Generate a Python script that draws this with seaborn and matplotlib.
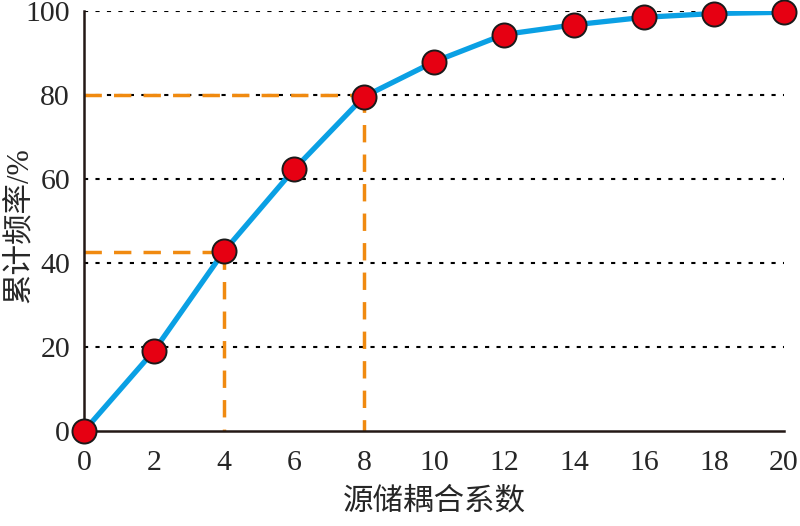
import matplotlib
matplotlib.use("Agg")
import matplotlib.pyplot as plt
import seaborn as sns
import pandas as pd

# data
coef = [0, 2, 4, 6, 8, 10, 12, 14, 16, 18, 20]
cum_freq = [0, 19.1, 42.8, 62.3, 79.6, 87.9, 94.4, 96.7, 98.5, 99.4, 99.7]
ref_x = [4, 8]
ref_y = [42.7, 80]
xticks = [0, 2, 4, 6, 8, 10, 12, 14, 16, 18, 20]
yticks = [0, 20, 40, 60, 80, 100]
xlabel = "源储耦合系数"
ylabel = "累计频率/%"

sns.set_style("white")
plt.rcParams['font.family'] = ['Liberation Serif', 'Noto Sans CJK SC']
plt.rcParams['font.size'] = 21

df = pd.DataFrame({"x": coef, "y": cum_freq})

fig = plt.figure(figsize=(8, 5.26), dpi=100)
ax = fig.add_axes([0.105, 0.1806, 0.875, 0.7985])

# grid lines (dotted)
for yv in yticks[1:]:
    ax.axhline(yv, color="black", lw=1.5, ls=(0, (2, 3.5)), zorder=1)

# reference lines
for rx, ry in zip(ref_x, ref_y):
    ax.plot([0, rx], [ry, ry], color="#F08A10", lw=2.5, ls=(0, (5, 3.5)), zorder=2, clip_on=False)
    ax.plot([rx, rx], [ry, 0], color="#F08A10", lw=2.5, ls=(0, (5, 3.5)), zorder=2, clip_on=False)

sns.lineplot(data=df, x="x", y="y", ax=ax, color="#0AA0E4", lw=3.8, zorder=3)
sns.scatterplot(data=df, x="x", y="y", ax=ax, color="#E60012", s=300,
                edgecolor="#1a1a1a", linewidth=1.4, zorder=4, clip_on=False)

ax.set_xlim(0, 20)
ax.set_ylim(0, 100)
ax.set_xticks(xticks)
ax.set_yticks(yticks)
ax.tick_params(axis="x", direction="in", length=6, width=1.5, color="#231815", pad=14, labelsize=21.5)
ax.tick_params(axis="y", direction="in", length=6, width=1.5, color="#231815", pad=10, labelsize=21.5)
for s in ["top", "right"]:
    ax.spines[s].set_visible(False)
for s in ["left", "bottom"]:
    ax.spines[s].set_linewidth(1.8)
    ax.spines[s].set_color("#231815")

ax.set_xlabel(xlabel, fontsize=22, labelpad=8)
ax.set_ylabel(ylabel, fontsize=22)
ax.yaxis.set_label_coords(-0.072, 0.49)

fig.savefig("out.png", dpi=100)
